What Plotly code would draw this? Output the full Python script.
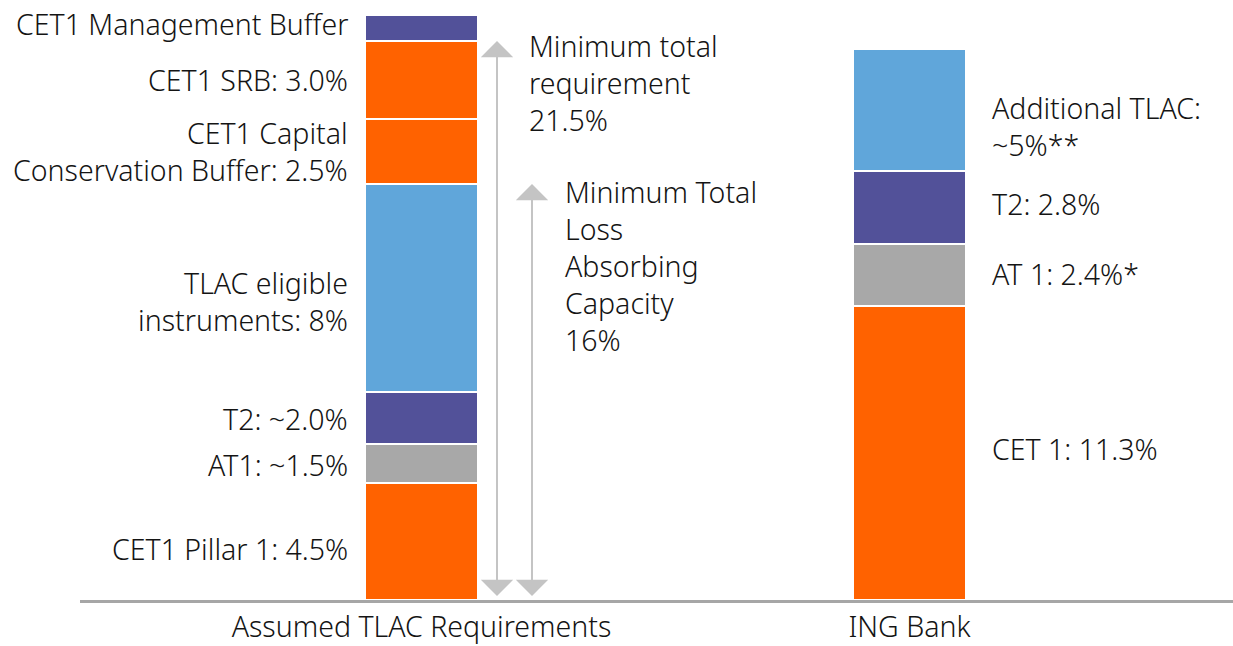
import plotly.graph_objects as go

# === Data ===
bars = ["Assumed TLAC Requirements", "ING Bank"]

left_labels = ["CET1 Pillar 1: 4.5%", "AT1: ~1.5%", "T2: ~2.0%",
               "TLAC eligible<br>instruments: 8%",
               "CET1 Capital<br>Conservation Buffer: 2.5%",
               "CET1 SRB: 3.0%", "CET1 Management Buffer"]
left_values = [4.5, 1.5, 2.0, 8.0, 2.5, 3.0, 1.0]

right_labels = ["CET 1: 11.3%", "AT 1: 2.4%*", "T2: 2.8%",
                "Additional TLAC:<br>~5%**"]
right_values = [11.3, 2.4, 2.8, 4.7]

min_total = 21.5
min_tlac = 16.0
arrow_texts = ["Minimum total<br>requirement<br>21.5%",
               "Minimum Total<br>Loss<br>Absorbing<br>Capacity<br>16%"]

# colours
ORANGE = "#FF6200"
PURPLE = "#525199"
GREY = "#A8A8A8"
BLUE = "#60A6DA"
left_colors = [ORANGE, GREY, PURPLE, BLUE, ORANGE, ORANGE, PURPLE]
right_colors = [ORANGE, GREY, PURPLE, BLUE]

FONT = "Noto Sans"
TXT = "#141414"
FS = 28.5
BAR_W = 0.2326

fig = go.Figure()

for v, c in zip(left_values, left_colors):
    fig.add_trace(go.Bar(x=[0], y=[v], width=BAR_W, hoverinfo="skip",
                         marker=dict(color=c, line=dict(color="white", width=2.5))))
for v, c in zip(right_values, right_colors):
    fig.add_trace(go.Bar(x=[1], y=[v], width=BAR_W, hoverinfo="skip",
                         marker=dict(color=c, line=dict(color="white", width=2.5))))

font = dict(family=FONT, size=FS, color=TXT, weight=300)

# segment labels sit at the middle of each segment (nudged a few px like the original)
left_nudge = [-7, -1.5, -1, -13, 0, 0, 4]
base = 0
for lab, v, dy in zip(left_labels, left_values, left_nudge):
    fig.add_annotation(x=-0.1465, y=base + v / 2, text=lab, showarrow=False,
                       xanchor="right", yanchor="middle", align="right", yshift=dy,
                       font=font)
    base += v

right_nudge = [4, 1, 3, -17]
base = 0
for lab, v, dy in zip(right_labels, right_values, right_nudge):
    fig.add_annotation(x=1.165, y=base + v / 2, text=lab, showarrow=False,
                       xanchor="left", yanchor="middle", align="left", yshift=dy,
                       font=font)
    base += v

# double-headed arrows
for xa, top in [(0.1547, min_total), (0.2264, min_tlac)]:
    fig.add_annotation(x=xa, y=top, ax=xa, ay=0.1, xref="x", yref="y", axref="x", ayref="y",
                       text="", showarrow=True, arrowhead=1, startarrowhead=1,
                       arrowside="end+start", arrowsize=2.7, startarrowsize=2.7,
                       arrowwidth=2, arrowcolor="#C4C4C4", standoff=0, startstandoff=0)

fig.add_annotation(x=0.2162, y=min_total, yshift=16, text=arrow_texts[0], showarrow=False,
                   xanchor="left", yanchor="top", align="left", font=font)
fig.add_annotation(x=0.29, y=min_tlac, yshift=13, text=arrow_texts[1], showarrow=False,
                   xanchor="left", yanchor="top", align="left", font=font)

fig.update_layout(
    barmode="stack",
    width=1233, height=646,
    margin=dict(l=80, r=0, t=0, b=46),
    plot_bgcolor="white", paper_bgcolor="white",
    showlegend=False,
    bargap=0,
)
fig.update_xaxes(range=[-0.6998, 1.6629], tickvals=[0, 1], ticktext=bars,
                 showline=True, linecolor="#A6A6A6", linewidth=3, showgrid=False,
                 zeroline=False, ticks="", ticklabelstandoff=0, tickfont=font,
                 automargin=False)
fig.update_yaxes(range=[0, 600 / 26], visible=False, automargin=False)

# page body has a default 8px margin; drop it so the figure sits at 0,0
fig.write_html("out.html", config={"displayModeBar": False},
               post_script="document.body.style.margin='0';")
